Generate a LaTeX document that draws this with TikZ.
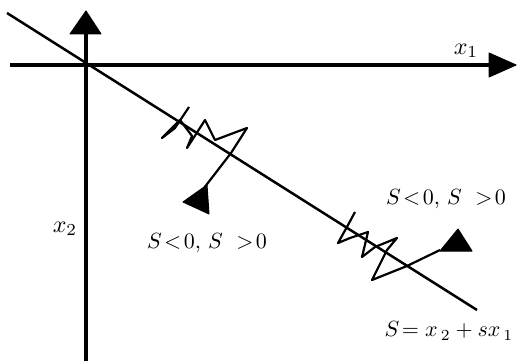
\documentclass[tikz,border=0pt]{standalone}
\begin{document}
\begin{tikzpicture}[x=1pt,y=-1pt,
  axis/.style={line width=3.4pt},
  sline/.style={line width=2.5pt},
  traj/.style={line width=2.2pt,line join=round},
  head/.style={fill=black,draw=black,line width=1pt,line join=round},
  lbl/.style={scale=2.2,inner sep=0pt},
  axl/.style={scale=2.4,inner sep=0pt}]
\useasboundingbox (0,0) rectangle (518,361);
% axes
\coordinate (xL) at (10,65);
\coordinate (xR) at (492,65);
\coordinate (yB) at (86,361);
\coordinate (yT) at (86,33);
\draw[axis] (xL) -- (xR);
\draw[axis] (yB) -- (yT);
\filldraw[head] (489,53) -- (516,65) -- (489,77) -- cycle;
\filldraw[head] (86,11) -- (101,34) -- (70,34) -- cycle;
\node[axl] (x1) at (466,51) {$x_1$};
\node[axl] (x2) at (65,229) {$x_2$};
% sliding line
\coordinate (sA) at (7,13);
\coordinate (sB) at (477,310);
\draw[sline] (sA) -- (sB);
% trajectory 1
\coordinate (a0) at (204,188);
\coordinate (a1) at (231,153);
\coordinate (a2) at (247,128);
\coordinate (a3) at (215,140);
\coordinate (a4) at (205,120);
\coordinate (a5) at (198,131);
\coordinate (a6) at (187,148);
\coordinate (a7) at (192,136);
\coordinate (a8) at (180,120);
\coordinate (a9) at (162,138);
\coordinate (a10) at (175,128);
\coordinate (a11) at (189,107);
\draw[traj] (a0) -- (a1) -- (a2) -- (a3) -- (a4) -- (a5) -- (a6) -- (a7)
  -- (a8) -- (a9) -- (a10) -- (a11);
\filldraw[head] (183,202) -- (207,185) -- (209,214) -- cycle;
% trajectory 2
\coordinate (b0) at (440,250);
\coordinate (b1) at (407,266);
\coordinate (b2) at (372,280);
\coordinate (b3) at (387,250);
\coordinate (b4) at (397,238);
\coordinate (b5) at (375,247);
\coordinate (b6) at (362,257);
\coordinate (b7) at (368,232);
\coordinate (b8) at (350,238);
\coordinate (b9) at (338,243);
\coordinate (b10) at (348,225);
\coordinate (b11) at (355,212);
\draw[traj] (b0) -- (b1) -- (b2) -- (b3) -- (b4) -- (b5) -- (b6) -- (b7)
  -- (b8) -- (b9) -- (b10) -- (b11);
\filldraw[head] (440,251) -- (458,229) -- (472,251) -- cycle;
% labels
\node[lbl] (l1) at (446,199) {$S\!<\!0,\,S\ >\!0$};
\node[lbl] (l2) at (207,243) {$S\!<\!0,\,S\ >\!0$};
\node[lbl] (l3) at (449,331) {$S\!=x_{\,2}+sx_{\,1}$};
\end{tikzpicture}
\end{document}
